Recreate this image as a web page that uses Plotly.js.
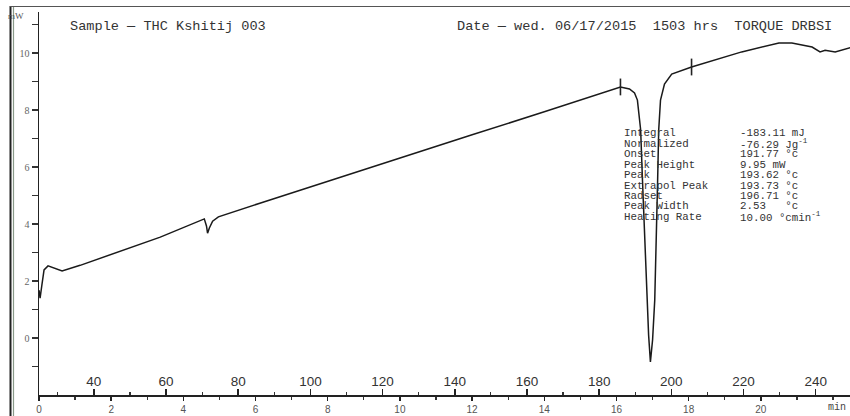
<!DOCTYPE html>
<html>
<head>
<meta charset="utf-8">
<script src="https://cdn.plot.ly/plotly-3.0.1.min.js"></script>
<style>html,body{margin:0;padding:0;background:#fff;}#chart{width:850px;height:416px;}</style>
</head>
<body>
<div id="chart"></div>
<script>
// ---- data ----
const timeMin = [0, 0.03, 0.08, 0.14, 0.25, 0.39, 0.64, 1.14, 2.25, 3.36, 4.58, 4.64, 4.67, 4.72, 4.81, 4.97, 6.14, 8, 10, 12, 14, 16.11, 16.36, 16.5, 16.58, 16.67, 16.72, 16.78, 16.83, 16.89, 16.94, 17.0, 17.06, 17.11, 17.14, 17.17, 17.22, 17.33, 17.53, 18.08, 19.47, 20.5, 20.86, 21.42, 21.64, 21.78, 22.06, 22.53];
const heatFlow = [1.68, 1.40, 1.86, 2.39, 2.53, 2.46, 2.35, 2.55, 3.04, 3.54, 4.18, 3.93, 3.68, 3.86, 4.10, 4.25, 4.74, 5.49, 6.31, 7.13, 7.94, 8.81, 8.74, 8.60, 8.35, 7.30, 5.54, 3.44, 1.68, 0.11, -0.84, -0.07, 1.33, 3.44, 5.54, 7.30, 8.35, 8.91, 9.26, 9.51, 10.04, 10.35, 10.35, 10.21, 10.04, 10.10, 10.04, 10.21];
const limitTime = [16.11, 18.08];
const limitFlow = [8.81, 9.51];
const timeTicks = [0, 2, 4, 6, 8, 10, 12, 14, 16, 18, 20];
const tempTicks = [40, 60, 80, 100, 120, 140, 160, 180, 200, 220, 240];
const flowTicks = [-2, 0, 2, 4, 6, 8, 10];
const statLabels = ["Integral", "Normalized", "Onset", "Peak Height", "Peak", "Extrapol Peak", "Radset", "Peak Width", "Heating Rate"];
const statValues = ["-183.11 mJ", "-76.29 Jg<sup>-1</sup>", "191.77 °c", "9.95 mW", "193.62 °c", "193.73 °c", "196.71 °c", "2.53\u00a0\u00a0\u00a0°c", "10.00 °cmin<sup>-1</sup>"];
const sampleText = "Sample \u2014 THC Kshitij 003";
const dateText = "Date \u2014 wed. 06/17/2015\u00a0\u00a01503 hrs\u00a0\u00a0TORQUE DRBSI";

// ---- layout helpers (pixel -> paper) ----
const L = 39, R = 850, T = 12, B = 395;
const px = x => (x - L) / (R - L);
const py = y => (B - y) / (B - T);
const mono = "Liberation Mono, Courier New, monospace";

const traces = [
  {x: timeMin, y: heatFlow, type: 'scatter', mode: 'lines',
   line: {color: '#1a1a1a', width: 1.5}, hoverinfo: 'skip', showlegend: false},
  {x: limitTime, y: limitFlow, type: 'scatter', mode: 'markers',
   marker: {symbol: 'line-ns-open', size: 12, color: '#222', line: {color: '#222', width: 1.6}},
   hoverinfo: 'skip', showlegend: false},
  {x: [tempTicks[0], tempTicks[tempTicks.length-1]], y: [0, 0], xaxis: 'x2', type: 'scatter', mode: 'markers',
   marker: {opacity: 0, color: '#fff'}, hoverinfo: 'skip', showlegend: false}
];

const annotations = [
  {text: sampleText, x: px(68), y: py(27), xref: 'paper', yref: 'paper', xanchor: 'left', yanchor: 'middle', showarrow: false, font: {family: mono, size: 13.6, color: '#333'}},
  {text: dateText, x: px(455), y: py(27), xref: 'paper', yref: 'paper', xanchor: 'left', yanchor: 'middle', showarrow: false, font: {family: mono, size: 13.6, color: '#333'}},
  {text: 'mW', x: px(16), y: py(16), xref: 'paper', yref: 'paper', xanchor: 'center', yanchor: 'middle', showarrow: false, font: {family: 'Liberation Serif', size: 9, color: '#555'}},
  {text: 'min', x: px(826), y: py(407), xref: 'paper', yref: 'paper', xanchor: 'left', yanchor: 'middle', showarrow: false, font: {family: mono, size: 10, color: '#444'}}
];
statLabels.forEach((s, i) => {
  const yy = 133 + 10.5 * i;
  annotations.push({text: s, x: px(622), y: py(yy), xref: 'paper', yref: 'paper', xanchor: 'left', yanchor: 'middle', showarrow: false, font: {family: mono, size: 10.8, color: '#333'}});
  annotations.push({text: statValues[i], x: px(738), y: py(yy), xref: 'paper', yref: 'paper', xanchor: 'left', yanchor: 'middle', showarrow: false, font: {family: mono, size: 10.8, color: '#333'}});
});

const layout = {
  width: 850, height: 416,
  margin: {l: L, r: 850 - R, t: T, b: 416 - B, pad: 0},
  paper_bgcolor: '#fff', plot_bgcolor: '#fff',
  showlegend: false,
  xaxis: {range: [0, 22.47], showgrid: false, zeroline: false, showline: true, linecolor: '#222', linewidth: 1.5,
          ticks: 'outside', ticklen: 4, tickwidth: 1.5, tickcolor: '#222', tickvals: timeTicks,
          minor: {dtick: 1, tick0: 0, ticks: 'outside', ticklen: 3, tickcolor: '#333', tickwidth: 1.2},
          tickfont: {family: 'Liberation Sans Narrow, Liberation Sans', size: 10, color: '#555'}},
  xaxis2: {overlaying: 'x', anchor: 'y', side: 'bottom', range: [24.8, 249.5], showgrid: false, zeroline: false, showline: false,
           ticks: 'inside', ticklen: 6, tickwidth: 1.5, tickcolor: '#222', tickvals: tempTicks, ticklabelposition: 'inside',
           minor: {dtick: 10, tick0: 0, ticks: 'inside', ticklen: 3, tickcolor: '#333', tickwidth: 1.2},
           tickfont: {family: 'Liberation Sans', size: 13.5, color: '#333'}},
  yaxis: {range: [-2, 11.44], showgrid: false, zeroline: false, showline: true, linecolor: '#222', linewidth: 1.5,
          ticks: 'outside', ticklen: 6, tickwidth: 1.5, tickcolor: '#333', tickvals: flowTicks,
          minor: {dtick: 1, tick0: 0, ticks: 'outside', ticklen: 6, tickcolor: '#333', tickwidth: 1.2},
          tickfont: {family: 'Liberation Serif', size: 10, color: '#666'}},
  annotations: annotations,
  shapes: [
    {type: 'line', xref: 'paper', yref: 'paper', x0: px(10.5), x1: px(10.5), y0: py(6), y1: py(420), line: {color: '#222', width: 2}},
    {type: 'line', xref: 'paper', yref: 'paper', x0: px(13.5), x1: px(13.5), y0: py(6), y1: py(420), line: {color: '#8a9a8a', width: 1.2}},
    {type: 'line', xref: 'paper', yref: 'paper', x0: px(10), x1: px(850), y0: py(6.5), y1: py(6.5), line: {color: '#555', width: 1.2}}
  ]
};

Plotly.newPlot('chart', traces, layout, {displayModeBar: false, staticPlot: true});
</script>
</body>
</html>
